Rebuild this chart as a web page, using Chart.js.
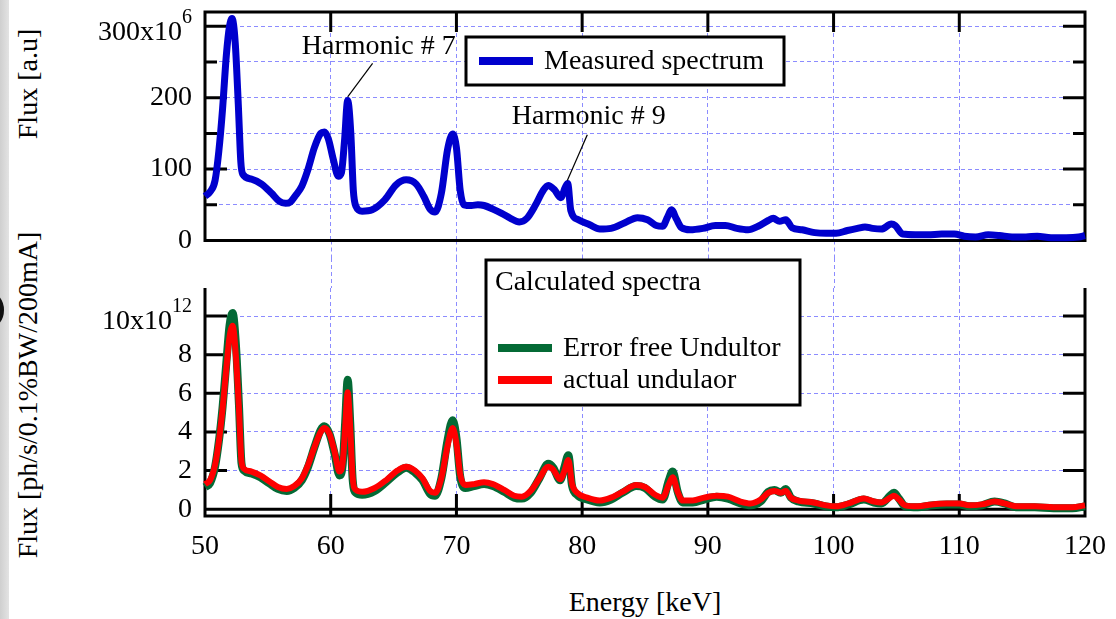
<!DOCTYPE html>
<html>
<head>
<meta charset="utf-8">
<title>Measured and calculated spectra</title>
<script src="https://cdn.jsdelivr.net/npm/chart.js@4.4.0/dist/chart.umd.min.js"></script>
<style>
  body { margin: 0; background: #fff; width: 1116px; height: 619px; overflow: hidden; position: relative; font-family: "Liberation Serif", "Times New Roman", serif; }
  #topBox { position: absolute; left: 0; top: 0; width: 1116px; height: 258px; }
  #bottomBox { position: absolute; left: 0; top: 258px; width: 1116px; height: 361px; }
  .strip { position: absolute; left: 0; top: 0; width: 9px; height: 619px; background: linear-gradient(to right, #cfcfcf, #e3e3e3); }
  .ring { position: absolute; left: -24px; top: 292px; width: 20px; height: 28px; border: 4px solid #111; border-radius: 50%; }
  .title { position: absolute; font-size: 28px; white-space: nowrap; color: #000; transform: translate(-50%, -50%); }
  .rot { transform: translate(-50%, -50%) rotate(-90deg); }
</style>
</head>
<body>
<div class="strip"></div>
<div class="ring"></div>
<div class="title rot" style="left:28px; top:84px;">Flux [a.u]</div>
<div class="title rot" style="left:28px; top:395px;">Flux [ph/s/0.1%BW/200mA]</div>
<div class="title" style="left:645px; top:602px;">Energy [keV]</div>
<div id="topBox"><canvas id="topChart"></canvas></div>
<div id="bottomBox"><canvas id="bottomChart"></canvas></div>
<script>
// measured spectrum (top panel), flux in units of 10^6
var energyMeasured = [50.0, 50.4, 50.8, 51.1, 51.4, 51.7, 51.95, 52.15, 52.4, 52.65, 52.85, 53.0, 53.7, 54.5, 55.3, 55.9, 56.4, 56.8, 57.2, 57.7,
  58.2, 58.7, 59.2, 59.5, 59.8, 60.2, 60.6, 60.85, 61.1, 61.35, 61.6, 61.8, 62.0, 62.5, 63.3, 64.3, 65.2, 66.0, 66.8, 67.4,
  67.9, 68.3, 68.8, 69.3, 69.7, 70.0, 70.3, 70.6, 71.2, 71.7, 72.2, 72.9, 73.6, 74.3, 75.0, 75.6, 76.3, 76.9, 77.3, 77.8,
  78.3, 78.65, 78.85, 79.1, 79.7, 80.6, 81.4, 82.3, 83.4, 84.4, 85.2, 85.9, 86.4, 86.8, 87.1, 87.5, 87.9, 88.6, 89.6, 90.6,
  91.4, 92.3, 93.2, 94.0, 94.8, 95.2, 95.7, 96.2, 96.7, 97.5, 98.5, 99.4, 100.2, 101.1, 101.9, 102.5, 103.1, 103.8, 104.6, 104.9,
  105.5, 106.5, 107.5, 108.6, 109.6, 110.4, 111.3, 112.3, 113.2, 114.2, 115.3, 116.2, 117.3, 118.5, 119.5, 120.0];
var fluxMeasured = [62, 68, 84, 125, 185, 260, 300, 311, 278, 190, 110, 93, 86, 79, 66, 55, 52, 54, 63, 76,
  100, 130, 150, 152, 143, 114, 90, 95, 140, 196, 150, 70, 48, 41, 43, 57, 78, 85, 79, 62,
  44, 40, 66, 128, 149, 130, 70, 50, 49, 50, 49, 44, 38, 31, 26, 31, 50, 70, 77, 71,
  60, 74, 80, 42, 29, 22, 16, 17, 25, 32, 29, 21, 20, 33, 43, 30, 18, 15, 17, 21,
  21, 17, 15, 20, 28, 31, 27, 29, 18, 15, 11, 10, 10, 14, 17, 19, 17, 16, 23, 21,
  9, 8, 8, 9, 9, 6, 5, 8, 7, 5, 5, 6, 4, 4, 5, 7];

// calculated spectra (bottom panel), flux in units of 10^12
var energyCalc = [50.0, 50.4, 50.8, 51.1, 51.4, 51.7, 51.95, 52.2, 52.45, 52.7, 52.9, 53.1, 53.7, 54.4, 55.1, 55.8, 56.5, 57.1, 57.7, 58.2,
  58.7, 59.2, 59.5, 59.9, 60.3, 60.7, 60.95, 61.15, 61.35, 61.55, 61.75, 62.0, 62.5, 63.5, 64.4, 65.3, 66.0, 66.7, 67.3, 67.9,
  68.3, 68.8, 69.3, 69.7, 70.0, 70.3, 70.7, 71.4, 72.2, 72.9, 73.8, 74.6, 75.2, 75.9, 76.6, 77.3, 77.7, 78.25, 78.6, 78.9,
  79.2, 79.6, 80.4, 81.4, 82.3, 83.2, 84.3, 85.0, 85.8, 86.4, 86.9, 87.2, 87.6, 88.0, 88.8, 89.7, 90.7, 91.6, 92.6, 93.4,
  94.2, 94.8, 95.3, 95.8, 96.2, 96.6, 97.2, 98.4, 99.4, 100.2, 101.2, 102.4, 103.2, 103.8, 104.5, 104.8, 105.2, 105.7, 106.7, 107.8,
  109.0, 110.0, 110.8, 111.8, 112.8, 113.6, 114.5, 116.0, 117.5, 119.0, 120.0];
var fluxErrorFree = [1.15, 1.35, 2.2, 3.5, 5.3, 7.6, 9.5, 10.15, 8.6, 5.4, 2.4, 2.0, 1.85, 1.65, 1.35, 1.05, 0.95, 1.1, 1.5, 2.2,
  3.2, 4.1, 4.3, 3.9, 2.9, 1.75, 2.3, 4.5, 6.7, 4.5, 1.5, 0.85, 0.75, 0.95, 1.4, 1.9, 2.15, 1.9, 1.5, 0.8,
  0.7, 1.6, 3.6, 4.6, 3.7, 1.7, 1.1, 1.2, 1.3, 1.2, 0.9, 0.6, 0.55, 0.85, 1.6, 2.35, 2.15, 1.5, 2.2, 2.8,
  1.2, 0.75, 0.5, 0.35, 0.5, 0.85, 1.2, 1.1, 0.65, 0.5, 1.5, 1.95, 0.9, 0.35, 0.35, 0.5, 0.65, 0.55, 0.3, 0.2,
  0.4, 0.9, 1.0, 0.85, 1.05, 0.6, 0.4, 0.3, 0.15, 0.1, 0.25, 0.5, 0.35, 0.3, 0.7, 0.85, 0.55, 0.15, 0.1, 0.2,
  0.25, 0.25, 0.15, 0.2, 0.4, 0.3, 0.1, 0.1, 0.05, 0.05, 0.15];
var fluxActual = [1.3, 1.5, 2.3, 3.5, 5.2, 7.3, 8.9, 9.5, 8.0, 5.2, 2.5, 2.1, 1.95, 1.75, 1.45, 1.15, 1.05, 1.2, 1.6, 2.3,
  3.2, 4.0, 4.2, 3.9, 3.0, 1.95, 2.4, 4.2, 6.05, 4.2, 1.6, 1.0, 0.9, 1.1, 1.5, 2.0, 2.2, 2.0, 1.6, 0.95,
  0.85, 1.6, 3.3, 4.2, 3.4, 1.8, 1.25, 1.3, 1.4, 1.3, 1.0, 0.7, 0.65, 0.95, 1.6, 2.2, 2.05, 1.55, 2.0, 2.55,
  1.3, 0.85, 0.6, 0.45, 0.6, 0.9, 1.25, 1.15, 0.75, 0.6, 1.3, 1.65, 0.9, 0.45, 0.45, 0.6, 0.7, 0.65, 0.4, 0.3,
  0.5, 0.85, 0.95, 0.85, 0.95, 0.6, 0.45, 0.35, 0.2, 0.15, 0.3, 0.55, 0.4, 0.35, 0.6, 0.7, 0.5, 0.2, 0.15, 0.25,
  0.3, 0.3, 0.2, 0.25, 0.4, 0.3, 0.15, 0.15, 0.1, 0.1, 0.2];

// tick labels, index = value / step; the top label carries a power of ten
var topYLabels = ['0', '100', '200', '300x10'];
var topYExponent = '6';
var bottomYLabels = ['0', '2', '4', '6', '8', '10x10'];
var bottomYExponent = '12';

// harmonic markers: peak point, end of the pointer line, text anchor (data units)
var harmonics = [
  { label: 'Harmonic # 7', peak: [61.35, 201], tip: [63.33, 248], text: [57.7, 271] },
  { label: 'Harmonic # 9', peak: [78.82, 84], tip: [80.41, 148], text: [74.4, 173] }
];

var serif = '"Liberation Serif", "Times New Roman", serif';
var gridColor = '#8c8cff';

function toPoints(xs, ys) {
  return xs.map(function(x, i) { return { x: x, y: ys[i] }; });
}

function fixSize(w, h) {
  return function(s) {
    if (w !== null) s.width = w;
    if (h !== null) s.height = h;
    s.paddingTop = 0; s.paddingBottom = 0; s.paddingLeft = 0; s.paddingRight = 0;
  };
}

// "300x10" with a raised "6", right-aligned against the axis
function drawPowerLabel(ctx, right, tickY, mantissa, exponent) {
  ctx.save();
  ctx.fillStyle = '#000';
  ctx.textBaseline = 'middle';
  ctx.textAlign = 'right';
  ctx.font = '20px ' + serif;
  var ew = ctx.measureText(exponent).width;
  ctx.fillText(exponent, right, tickY - 9);
  ctx.font = '28px ' + serif;
  ctx.fillText(mantissa, right - ew, tickY + 6);
  ctx.restore();
}

function drawLegendBox(ctx, x, y, w, h) {
  ctx.fillStyle = '#fff';
  ctx.fillRect(x, y, w, h);
  ctx.strokeStyle = '#000';
  ctx.lineWidth = 3;
  ctx.strokeRect(x, y, w, h);
}

function drawEntry(ctx, ds, x, y) {
  ctx.strokeStyle = ds.borderColor;
  ctx.lineWidth = 8;
  ctx.beginPath();
  ctx.moveTo(x, y); ctx.lineTo(x + 54, y);
  ctx.stroke();
  ctx.fillStyle = '#000';
  ctx.fillText(ds.label, x + 65, y + 1);
}

var topPanel = {
  id: 'topPanel',
  beforeDatasetsDraw: function(chart) {
    var ctx = chart.ctx, a = chart.chartArea, x = chart.scales.x, y = chart.scales.y;
    ctx.save();
    // vertical grid continues down into the gap between the panels
    ctx.strokeStyle = gridColor;
    ctx.lineWidth = 1;
    ctx.setLineDash([4, 3]);
    ctx.beginPath();
    x.ticks.forEach(function(t) {
      if (t.value <= 50 || t.value >= 120) return;
      var px = Math.round(x.getPixelForValue(t.value)) + 0.5;
      ctx.moveTo(px, a.bottom); ctx.lineTo(px, chart.height);
    });
    ctx.stroke();
    ctx.setLineDash([]);
    ctx.strokeStyle = '#000';
    ctx.lineWidth = 3;
    ctx.strokeRect(a.left, a.top, a.right - a.left, a.bottom - a.top);
    ctx.beginPath();
    y.ticks.forEach(function(t) {
      var py = y.getPixelForValue(t.value);
      var len = t.value % 100 === 0 ? 22 : 12;
      ctx.moveTo(a.left, py); ctx.lineTo(a.left + len, py);
      ctx.moveTo(a.right, py); ctx.lineTo(a.right - len, py);
    });
    x.ticks.forEach(function(t) {
      if (t.value <= 50 || t.value >= 120) return;
      var px = x.getPixelForValue(t.value);
      ctx.moveTo(px, a.top); ctx.lineTo(px, a.top + 20);
    });
    ctx.stroke();
    ctx.restore();
  },
  afterDraw: function(chart) {
    var ctx = chart.ctx, a = chart.chartArea, x = chart.scales.x, y = chart.scales.y;
    var topValue = (topYLabels.length - 1) * 100;
    drawPowerLabel(ctx, a.left - 13, y.getPixelForValue(topValue), topYLabels[topYLabels.length - 1], topYExponent);
    ctx.save();
    ctx.font = '28px ' + serif;
    ctx.textBaseline = 'middle';
    ctx.textAlign = 'left';
    harmonics.forEach(function(h) {
      ctx.strokeStyle = '#000';
      ctx.lineWidth = 1.2;
      ctx.beginPath();
      ctx.moveTo(x.getPixelForValue(h.peak[0]), y.getPixelForValue(h.peak[1]));
      ctx.lineTo(x.getPixelForValue(h.tip[0]), y.getPixelForValue(h.tip[1]));
      ctx.stroke();
      ctx.fillStyle = '#000';
      ctx.fillText(h.label, x.getPixelForValue(h.text[0]), y.getPixelForValue(h.text[1]));
    });
    drawLegendBox(ctx, 466, 37, 318, 48);
    drawEntry(ctx, chart.data.datasets[0], 479, 61);
    ctx.restore();
  }
};

var bottomPanel = {
  id: 'bottomPanel',
  beforeDatasetsDraw: function(chart) {
    var ctx = chart.ctx, a = chart.chartArea, x = chart.scales.x, y = chart.scales.y;
    ctx.save();
    // vertical grid continues up through the gap between the panels
    ctx.strokeStyle = gridColor;
    ctx.lineWidth = 1;
    ctx.setLineDash([4, 3]);
    ctx.beginPath();
    x.ticks.forEach(function(t) {
      if (t.value <= 50 || t.value >= 120) return;
      var px = Math.round(x.getPixelForValue(t.value)) + 0.5;
      ctx.moveTo(px, 0); ctx.lineTo(px, a.top);
    });
    ctx.stroke();
    ctx.setLineDash([]);
    ctx.strokeStyle = '#000';
    ctx.lineWidth = 3;
    var zero = y.getPixelForValue(0);
    ctx.beginPath();
    ctx.moveTo(a.left, a.top); ctx.lineTo(a.left, a.bottom); ctx.lineTo(a.right, a.bottom); ctx.lineTo(a.right, a.top);
    ctx.moveTo(a.left, zero); ctx.lineTo(a.right, zero);
    y.ticks.forEach(function(t) {
      var py = y.getPixelForValue(t.value);
      ctx.moveTo(a.left, py); ctx.lineTo(a.left + 22, py);
      ctx.moveTo(a.right, py); ctx.lineTo(a.right - 22, py);
    });
    x.ticks.forEach(function(t) {
      if (t.value <= 50 || t.value >= 120) return;
      var px = x.getPixelForValue(t.value);
      ctx.moveTo(px, a.bottom); ctx.lineTo(px, a.bottom - 22);
    });
    ctx.stroke();
    ctx.restore();
  },
  afterDraw: function(chart) {
    var ctx = chart.ctx, a = chart.chartArea, y = chart.scales.y;
    var topValue = (bottomYLabels.length - 1) * 2;
    drawPowerLabel(ctx, a.left - 13, y.getPixelForValue(topValue), bottomYLabels[bottomYLabels.length - 1], bottomYExponent);
    ctx.save();
    ctx.font = '28px ' + serif;
    ctx.textBaseline = 'middle';
    ctx.textAlign = 'left';
    drawLegendBox(ctx, 486, 2, 314, 145);
    ctx.fillStyle = '#000';
    ctx.fillText('Calculated spectra', 495, 25);
    drawEntry(ctx, chart.data.datasets[0], 498, 90);
    drawEntry(ctx, chart.data.datasets[1], 498, 122);
    ctx.restore();
  }
};

var tickFont = { family: serif, size: 28 };

var ctxTop = document.getElementById('topChart').getContext('2d');
var topChart = new Chart(ctxTop, {
  type: 'line',
  data: {
    datasets: [{
      label: 'Measured spectrum',
      data: toPoints(energyMeasured, fluxMeasured),
      borderColor: '#0000cd',
      borderWidth: 7,
      pointRadius: 0,
      cubicInterpolationMode: 'monotone',
      clip: false
    }]
  },
  options: {
    responsive: true,
    maintainAspectRatio: false,
    animation: false,
    devicePixelRatio: 1,
    layout: { padding: { left: 0, top: 12, right: 31, bottom: 0 } },
    plugins: { legend: { display: false }, tooltip: { enabled: false } },
    scales: {
      x: {
        type: 'linear', min: 50, max: 120,
        ticks: { display: false, stepSize: 10 },
        grid: { color: gridColor, drawTicks: false },
        border: { display: false, dash: [4, 3] },
        afterFit: fixSize(null, 17.5)
      },
      y: {
        min: 0, max: 320,
        ticks: {
          stepSize: 50, includeBounds: false, autoSkip: false, padding: 13,
          color: '#000', font: tickFont,
          callback: function(v) {
            var i = v / 100;
            return v % 100 === 0 && i < topYLabels.length - 1 ? topYLabels[i] : '';
          }
        },
        grid: {
          drawTicks: false,
          color: function(c) { return c.tick && c.tick.value === 0 ? 'rgba(0,0,0,0)' : gridColor; }
        },
        border: { display: false, dash: [4, 3] },
        afterFit: fixSize(205, null)
      }
    }
  },
  plugins: [topPanel]
});

var ctxBottom = document.getElementById('bottomChart').getContext('2d');
var bottomChart = new Chart(ctxBottom, {
  type: 'line',
  data: {
    datasets: [{
      label: 'Error free Undultor',
      data: toPoints(energyCalc, fluxErrorFree),
      borderColor: '#046a35',
      borderWidth: 8,
      pointRadius: 0,
      cubicInterpolationMode: 'monotone',
      clip: false,
      order: 1
    }, {
      label: 'actual undulaor',
      data: toPoints(energyCalc, fluxActual),
      borderColor: '#ff0000',
      borderWidth: 6,
      pointRadius: 0,
      cubicInterpolationMode: 'monotone',
      clip: false,
      order: 0
    }]
  },
  options: {
    responsive: true,
    maintainAspectRatio: false,
    animation: false,
    devicePixelRatio: 1,
    layout: { padding: { left: 0, top: 30, right: 31, bottom: 0 } },
    plugins: { legend: { display: false }, tooltip: { enabled: false } },
    scales: {
      x: {
        type: 'linear', min: 50, max: 120,
        ticks: { stepSize: 10, autoSkip: false, maxRotation: 0, padding: 14, color: '#000', font: tickFont },
        grid: { color: gridColor, drawTicks: false },
        border: { display: false, dash: [4, 3] },
        afterFit: fixSize(null, 103)
      },
      y: {
        min: -0.35, max: 11.45,
        ticks: {
          stepSize: 2, includeBounds: false, autoSkip: false, padding: 13,
          color: '#000', font: tickFont,
          callback: function(v) {
            var i = Math.round(v / 2);
            return i < bottomYLabels.length - 1 ? bottomYLabels[i] : '';
          }
        },
        grid: {
          drawTicks: false,
          color: function(c) { return c.tick && c.tick.value === 0 ? 'rgba(0,0,0,0)' : gridColor; }
        },
        border: { display: false, dash: [4, 3] },
        afterFit: fixSize(205, null)
      }
    }
  },
  plugins: [bottomPanel]
});
</script>
</body>
</html>
